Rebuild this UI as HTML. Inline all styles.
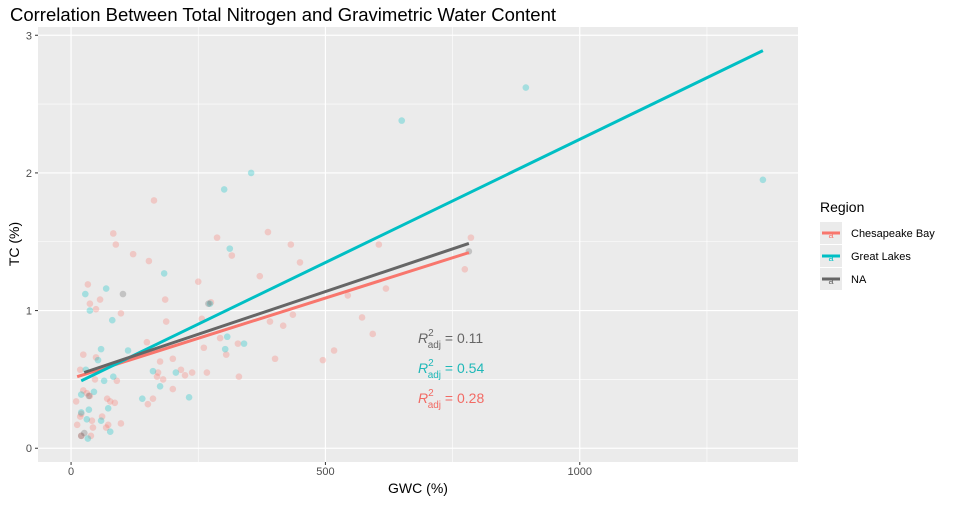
<!DOCTYPE html>
<html><head><meta charset="utf-8"><style>
body{margin:0;background:#fff;font-family:"Liberation Sans",Arial,sans-serif}
</style></head><body>
<svg id="chart" width="955" height="501" xmlns="http://www.w3.org/2000/svg" font-family="Liberation Sans, Arial, sans-serif">
<text x="10" y="21" font-size="18.5" fill="#000">Correlation Between Total Nitrogen and Gravimetric Water Content</text>
<rect x="38" y="27" width="760" height="435" fill="#ebebeb"/>
<g id="grid"></g><g id="pts"></g><g id="lines"></g><g id="axes"></g>
<text x="418" y="493" font-size="14" text-anchor="middle">GWC (%)</text>
<text transform="translate(19,244) rotate(-90)" font-size="14" text-anchor="middle">TC (%)</text>
<g font-size="14">
<text x="418" y="343" fill="#666666"><tspan font-style="italic">R</tspan><tspan font-size="10" dy="-7">2</tspan><tspan font-size="10" dx="-6" dy="12">adj</tspan><tspan dy="-5"> = 0.11</tspan></text>
<text x="418" y="373" fill="#1fb8b8"><tspan font-style="italic">R</tspan><tspan font-size="10" dy="-7">2</tspan><tspan font-size="10" dx="-6" dy="12">adj</tspan><tspan dy="-5"> = 0.54</tspan></text>
<text x="418" y="403" fill="#f26a64"><tspan font-style="italic">R</tspan><tspan font-size="10" dy="-7">2</tspan><tspan font-size="10" dx="-6" dy="12">adj</tspan><tspan dy="-5"> = 0.28</tspan></text>
</g>
<g>
<text x="820" y="212" font-size="14">Region</text>
<g><rect x="820" y="222" width="22" height="22" fill="#ebebeb"/><line x1="822" y1="233" x2="840" y2="233" stroke="#f8766d" stroke-width="3"/><text x="831" y="238" font-size="9" fill="#f8766d" text-anchor="middle">a</text><text x="851" y="237" font-size="11">Chesapeake Bay</text></g>
<g><rect x="820" y="245" width="22" height="22" fill="#ebebeb"/><line x1="822" y1="256" x2="840" y2="256" stroke="#00bfc4" stroke-width="3"/><text x="831" y="261" font-size="9" fill="#00bfc4" text-anchor="middle">a</text><text x="851" y="260" font-size="11">Great Lakes</text></g>
<g><rect x="820" y="268" width="22" height="22" fill="#ebebeb"/><line x1="822" y1="279" x2="840" y2="279" stroke="#666" stroke-width="3"/><text x="831" y="284" font-size="9" fill="#666" text-anchor="middle">a</text><text x="851" y="283" font-size="11">NA</text></g>
</g>
</svg>
<script>
const xTicks=[0,500,1000];
const xMinor=[250,750,1250];
const yTicks=[0,1,2,3];
const yMinor=[0.5,1.5,2.5];
const cbX=[163,83,88,122,153,33,57,37,49,98,250,185,187,287,316,387,432,450,371,275,257,391,417,436,149,24,49,261,293,305,328,401,495,517,200,175,18,216,224,238,267,330,171,169,181,47,90,200,24,31,37,10,71,77,86,161,151,20,18,41,61,12,43,69,73,98,20,39,786,605,774,619,544,572,593];
const cbY=[1.80,1.56,1.48,1.41,1.36,1.19,1.08,1.05,1.01,0.98,1.21,1.08,0.92,1.53,1.40,1.57,1.48,1.35,1.25,1.06,0.94,0.92,0.89,0.97,0.77,0.68,0.66,0.73,0.80,0.68,0.76,0.65,0.64,0.71,0.65,0.63,0.57,0.57,0.53,0.55,0.55,0.52,0.55,0.52,0.50,0.50,0.49,0.43,0.42,0.40,0.38,0.34,0.36,0.34,0.33,0.36,0.32,0.25,0.23,0.20,0.23,0.17,0.15,0.15,0.17,0.18,0.09,0.09,1.53,1.48,1.30,1.16,1.11,0.95,0.83];
const glX=[301,312,183,69,28,37,81,273,307,303,340,59,53,112,29,65,83,161,206,175,20,45,140,232,73,35,20,31,59,77,33,354,650,894,1360];
const glY=[1.88,1.45,1.27,1.16,1.12,1.00,0.93,1.05,0.81,0.72,0.76,0.72,0.64,0.71,0.57,0.49,0.52,0.56,0.55,0.45,0.39,0.41,0.36,0.37,0.29,0.28,0.26,0.21,0.20,0.12,0.07,2.00,2.38,2.62,1.95];
const naX=[102,35,26,20,782,270];
const naY=[1.12,0.38,0.11,0.09,1.43,1.05];
const fitNames=["chesapeake","great-lakes","na"];
const fitSlope=[0.00117,0.00179,0.00124];
const fitIntercept=[0.506,0.454,0.518];
const fitXmin=[12,20,26];
const fitXmax=[782,1360,782];
const colors=["#f8766d","#00bfc4","#666666"];
const X0=38,X1=798,Y0=27,Y1=462,xd=[-65,1429],yd=[-0.10,3.06];
const sx=v=>X0+(v-xd[0])/(xd[1]-xd[0])*(X1-X0);
const sy=v=>Y1-(v-yd[0])/(yd[1]-yd[0])*(Y1-Y0);
const NS="http://www.w3.org/2000/svg";
function mk(t,a,p){const e=document.createElementNS(NS,t);for(const k in a)e.setAttribute(k,a[k]);p.appendChild(e);return e;}
const grid=document.getElementById('grid'),axes=document.getElementById('axes');
xMinor.forEach(v=>{const l=mk('line',{x1:sx(v),x2:sx(v),y1:Y0,y2:Y1,stroke:'#fff','stroke-width':0.6},grid);

});
yMinor.forEach(v=>{const l=mk('line',{x1:X0,x2:X1,y1:sy(v),y2:sy(v),stroke:'#fff','stroke-width':0.6},grid);

});
xTicks.forEach(v=>{const l=mk('line',{x1:sx(v),x2:sx(v),y1:Y0,y2:Y1,stroke:'#fff','stroke-width':1.2},grid);


const tk=mk('line',{x1:sx(v),x2:sx(v),y1:Y1,y2:Y1+3,stroke:'#333'},axes);


const t=mk('text',{x:sx(v),y:Y1+13,'font-size':11,fill:'#4d4d4d','text-anchor':'middle'},axes);t.textContent=v;

});
yTicks.forEach(v=>{const l=mk('line',{x1:X0,x2:X1,y1:sy(v),y2:sy(v),stroke:'#fff','stroke-width':1.2},grid);


const tk=mk('line',{x1:X0-3,x2:X0,y1:sy(v),y2:sy(v),stroke:'#333'},axes);


const t=mk('text',{x:X0-6,y:sy(v)+4,'font-size':11,fill:'#4d4d4d','text-anchor':'end'},axes);t.textContent=v;

});
const pts=document.getElementById('pts');
[[cbX,cbY,0,'point-chesapeake'],[glX,glY,1,'point-great-lakes'],[naX,naY,2,'point-na']].forEach(([xs,ys,c,n])=>{
xs.forEach((x,i)=>{const p=mk('circle',{cx:sx(x),cy:sy(ys[i]),r:3.3,fill:colors[c],'fill-opacity':0.3},pts);

});});
const lines=document.getElementById('lines');
fitNames.forEach((n,i)=>{const a=fitXmin[i],b=fitXmax[i];
const l=mk('line',{x1:sx(a),y1:sy(fitIntercept[i]+fitSlope[i]*a),x2:sx(b),y2:sy(fitIntercept[i]+fitSlope[i]*b),stroke:colors[i],'stroke-width':3},lines);

});
</script>
</body></html>
